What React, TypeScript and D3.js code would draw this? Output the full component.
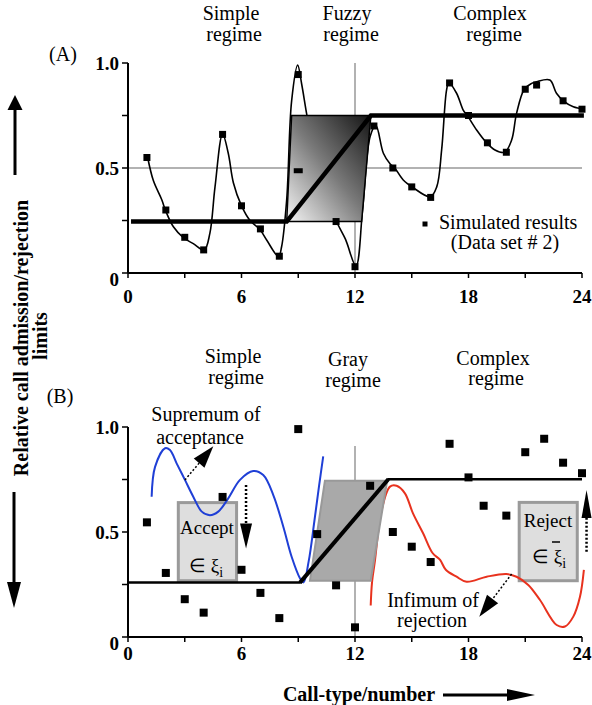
import React from 'react';
import * as d3 from 'd3';

const W = 592;
const H = 705;
const SERIF = '"Liberation Serif", "Times New Roman", serif';

// ---- panel (A): simulated results, data set #2
const simAX = [1, 2, 3, 4, 5, 6, 7, 8, 9, 11, 12, 13, 14, 15, 16, 17, 18, 19, 20, 21, 21.6, 23, 24];
const simAY = [0.55, 0.3, 0.17, 0.11, 0.66, 0.32, 0.21, 0.08, 0.945, 0.245, 0.03, 0.7, 0.5, 0.41, 0.36, 0.905, 0.75, 0.62, 0.575, 0.875, 0.895, 0.82, 0.78];
const dashA = [9, 0.487];

// the traced simulation curve through the squares
const traceAX = [1.04, 1.34, 1.78, 2.0, 2.4, 2.94, 3.45, 4.03, 4.33, 4.6, 5.0, 5.3, 5.57, 5.99, 6.45, 6.98, 7.33, 7.96, 8.12, 8.39, 8.65, 8.97, 9.18, 9.44, 10, 11.03, 11.5, 12.05, 12.4, 12.8, 13.1, 13.5, 13.85, 14.1, 14.55, 15.08, 15.98, 16.32, 16.58, 16.84, 16.96, 17.37, 17.72, 17.95, 18.43, 18.94, 19.4, 19.91, 20.28, 20.54, 20.95, 21.34, 21.6, 22.3, 22.65, 23.03, 23.54, 24.1];
const traceAY = [0.55, 0.44, 0.35, 0.294, 0.22, 0.167, 0.14, 0.11, 0.19, 0.41, 0.662, 0.57, 0.43, 0.322, 0.25, 0.206, 0.157, 0.078, 0.125, 0.35, 0.82, 0.99, 0.9, 0.76, 0.49, 0.244, 0.16, 0.033, 0.3, 0.65, 0.703, 0.57, 0.52, 0.5, 0.443, 0.406, 0.363, 0.41, 0.586, 0.871, 0.906, 0.856, 0.776, 0.748, 0.681, 0.622, 0.586, 0.575, 0.633, 0.76, 0.875, 0.903, 0.911, 0.919, 0.856, 0.819, 0.792, 0.781];

const stepAX = [0.16, 8.39, 12.84, 24.1];
const stepAY = [0.245, 0.245, 0.75, 0.75];
const fuzzyX = [8.65, 12.84, 12.35, 8.39];
const fuzzyY = [0.75, 0.75, 0.245, 0.245];

// ---- panel (B)
const simBX = [1, 2, 3, 4, 5, 6, 7, 8, 9, 10, 11, 12, 12.8, 14, 15, 16, 17, 18, 18.8, 20, 21, 22, 23, 24];
const simBY = [0.546, 0.305, 0.18, 0.116, 0.667, 0.32, 0.21, 0.09, 0.99, 0.49, 0.246, 0.046, 0.72, 0.5, 0.43, 0.357, 0.92, 0.76, 0.625, 0.578, 0.88, 0.944, 0.83, 0.78];

const supX = [1.25, 1.43, 1.96, 2.22, 2.57, 3.01, 3.45, 3.9, 4.33, 4.77, 5.3, 5.92, 6.62, 7.15, 7.68, 8.21, 8.65, 9.09, 9.28, 9.55, 9.85, 10.1, 10.32];
const supY = [0.668, 0.81, 0.899, 0.89, 0.827, 0.748, 0.668, 0.597, 0.58, 0.597, 0.66, 0.748, 0.79, 0.771, 0.676, 0.525, 0.382, 0.28, 0.26, 0.36, 0.55, 0.72, 0.86];

const infX = [12.83, 12.9, 13.05, 13.4, 13.85, 14.2, 14.64, 15.06, 15.6, 16.1, 16.5, 16.8, 17.37, 17.9, 18.96, 20.0, 20.54, 21.16, 21.78, 22.66, 23.1, 23.54, 23.89, 24.1];
const infY = [0.15, 0.26, 0.36, 0.6, 0.716, 0.72, 0.684, 0.59, 0.494, 0.4, 0.367, 0.32, 0.287, 0.263, 0.287, 0.3, 0.287, 0.248, 0.176, 0.057, 0.05, 0.097, 0.19, 0.32];

const stepBX = [0, 9.09, 13.76, 24];
const stepBY = [0.259, 0.259, 0.751, 0.751];
const grayX = [10.41, 13.7, 12.83, 9.62];
const grayY = [0.744, 0.744, 0.268, 0.268];

const xTicks = [0, 3, 6, 9, 12, 15, 18, 21, 24];
const xLabels = [0, 6, 12, 18, 24];
const yTicks = [0, 0.25, 0.5, 0.75, 1];
const yLabels = [[0, '0'], [0.5, '0.5'], [1, '1.0']];

const x = d3.scaleLinear().domain([0, 24]).range([128, 582]);
const yA = d3.scaleLinear().domain([0, 1]).range([273, 63]);
const yB = d3.scaleLinear().domain([0, 1]).range([637, 427]);

const zip = (xs, ys) => xs.map((v, i) => [v, ys[i]]);

const serif = { fontFamily: SERIF };
const serifBold = { fontFamily: SERIF, fontWeight: 'bold' as const };

function Arrow({ x1, y1, x2, y2, len, wid, sw = 2, dash = null }) {
  const a = Math.atan2(y2 - y1, x2 - x1);
  const bx = x2 - len * Math.cos(a);
  const by = y2 - len * Math.sin(a);
  const px = -Math.sin(a) * wid / 2;
  const py = Math.cos(a) * wid / 2;
  return (
    <g>
      <line x1={x1} y1={y1} x2={bx} y2={by} stroke="#000" strokeWidth={sw} strokeDasharray={dash || undefined} />
      <polygon points={`${x2},${y2} ${bx + px},${by + py} ${bx - px},${by - py}`} fill="#000" />
    </g>
  );
}

function Axes({ y, xLabelDy }) {
  return (
    <g style={serifBold} fontSize={19}>
      <line x1={x(0)} x2={x(24)} y1={y(0)} y2={y(0)} stroke="#000" strokeWidth={2} />
      <line x1={x(0)} x2={x(0)} y1={y(0)} y2={y(1)} stroke="#000" strokeWidth={2} />
      {xTicks.map(t => (
        <line key={t} x1={x(t)} x2={x(t)} y1={y(0)} y2={y(0) + 5} stroke="#000" strokeWidth={1.5} />
      ))}
      {yTicks.map(t => (
        <line key={t} x1={x(0) - 6} x2={x(0)} y1={y(t)} y2={y(t)} stroke="#000" strokeWidth={1.5} />
      ))}
      {xLabels.map(t => (
        <text key={t} x={x(t)} y={y(0) + xLabelDy} textAnchor="middle">{t}</text>
      ))}
      {yLabels.map(([v, s]) => (
        <text key={s} x={119} y={y(v) + (v === 0 ? 13 : 7)} textAnchor="end">{s}</text>
      ))}
    </g>
  );
}

function Squares({ xs, ys, y, size }) {
  return (
    <g>
      {xs.map((v, i) => (
        <rect key={i} x={x(v) - size / 2} y={y(ys[i]) - size / 2} width={size} height={size} fill="#000" />
      ))}
    </g>
  );
}

export default function App() {
  const lineA = d3.line().x(d => x(d[0])).y(d => yA(d[1])).curve(d3.curveCatmullRom);
  const lineB = d3.line().x(d => x(d[0])).y(d => yB(d[1])).curve(d3.curveCatmullRom);
  const polyA = zip(fuzzyX, fuzzyY).map(d => `${x(d[0])},${yA(d[1])}`).join(' ');
  const polyB = zip(grayX, grayY).map(d => `${x(d[0])},${yB(d[1])}`).join(' ');
  const stepA = d3.line().x(d => x(d[0])).y(d => yA(d[1]));
  const stepB = d3.line().x(d => x(d[0])).y(d => yB(d[1]));
  const sA = zip(stepAX, stepAY);
  const sB = zip(stepBX, stepBY);

  return (
    <svg width={W} height={H} style={{ position: 'absolute', left: 0, top: 0, background: '#fff' }}>
      <defs>
        <linearGradient id="fuzzy" x1="0" y1="1" x2="1" y2="0">
          <stop offset="0" stopColor="#f6f6f6" />
          <stop offset="0.5" stopColor="#7a7a7a" />
          <stop offset="1" stopColor="#141414" />
        </linearGradient>
      </defs>

      {/* y-axis title with arrows */}
      <g style={serifBold} fontSize={20}>
        <text transform="translate(28,338) rotate(-90)" textAnchor="middle">Relative call admission/rejection</text>
        <text transform="translate(47,336) rotate(-90)" textAnchor="middle">limits</text>
      </g>
      <Arrow x1={15} y1={175} x2={15} y2={95} len={15} wid={15} sw={3} />
      <Arrow x1={14} y1={492} x2={14} y2={608} len={26} wid={14} sw={3} />

      {/* ---------------- panel A ---------------- */}
      <g style={serif} fontSize={20}>
        <text x={63} y={61} textAnchor="middle">(A)</text>
        <text x={231} y={20} textAnchor="middle">Simple</text>
        <text x={234} y={41} textAnchor="middle">regime</text>
        <text x={347} y={20} textAnchor="middle">Fuzzy</text>
        <text x={351} y={41} textAnchor="middle">regime</text>
        <text x={490} y={20} textAnchor="middle">Complex</text>
        <text x={494} y={41} textAnchor="middle">regime</text>
      </g>
      <line x1={x(0)} x2={x(24)} y1={yA(0.5)} y2={yA(0.5)} stroke="#999" strokeWidth={1.5} />
      <line x1={x(12)} x2={x(12)} y1={yA(1)} y2={yA(0)} stroke="#999" strokeWidth={1.5} />
      <path d={lineA(zip(traceAX, traceAY))} fill="none" stroke="#000" strokeWidth={1.6} />
      <polygon points={polyA} fill="url(#fuzzy)" stroke="#000" strokeWidth={1.5} />
      <path d={stepA(sA)} fill="none" stroke="#000" strokeWidth={4.5} />
      <Squares xs={simAX} ys={simAY} y={yA} size={7} />
      <rect x={x(dashA[0]) - 4.5} y={yA(dashA[1]) - 2.5} width={9} height={5} fill="#000" />
      <Axes y={yA} xLabelDy={30} />
      <rect x={422.5} y={221.5} width={5} height={5} fill="#000" />
      <g style={serif} fontSize={20}>
        <text x={439} y={229}>Simulated results</text>
        <text x={505} y={249} textAnchor="middle">(Data set # 2)</text>
      </g>

      {/* ---------------- panel B ---------------- */}
      <g style={serif} fontSize={20}>
        <text x={60} y={403} textAnchor="middle">(B)</text>
        <text x={233} y={363} textAnchor="middle">Simple</text>
        <text x={236} y={384} textAnchor="middle">regime</text>
        <text x={348} y={366} textAnchor="middle">Gray</text>
        <text x={353} y={387} textAnchor="middle">regime</text>
        <text x={493} y={365} textAnchor="middle">Complex</text>
        <text x={496} y={385} textAnchor="middle">regime</text>
      </g>
      <rect x={x(2.66)} y={yB(0.64)} width={x(5.74) - x(2.66)} height={yB(0.268) - yB(0.64)} fill="#dedede" stroke="#9a9a9a" strokeWidth={3} />
      <rect x={x(20.68)} y={yB(0.641)} width={x(23.75) - x(20.68)} height={yB(0.268) - yB(0.641)} fill="#dedede" stroke="#9a9a9a" strokeWidth={3} />
      <line x1={x(12)} x2={x(12)} y1={yB(0.91)} y2={yB(0)} stroke="#999" strokeWidth={1.5} />
      <path d={lineB(zip(supX, supY))} fill="none" stroke="#1f3fd6" strokeWidth={2} />
      <path d={lineB(zip(infX, infY))} fill="none" stroke="#e8321e" strokeWidth={2} />
      <polygon points={polyB} fill="#a9a9a9" stroke="#999" strokeWidth={2} />
      <path d={stepB(sB)} fill="none" stroke="#000" strokeWidth={2.5} />
      <line x1={x(stepBX[1])} y1={yB(stepBY[1])} x2={x(stepBX[2])} y2={yB(stepBY[2])} stroke="#000" strokeWidth={4} />
      <Squares xs={simBX} ys={simBY} y={yB} size={8} />
      <Axes y={yB} xLabelDy={23} />

      <g style={serif} fontSize={20}>
        <text x={206} y={421} textAnchor="middle">Supremum of</text>
        <text x={200} y={444} textAnchor="middle">acceptance</text>
        <text x={433} y={607} textAnchor="middle">Infimum of</text>
        <text x={432} y={627} textAnchor="middle">rejection</text>
        <text x={207} y={534} textAnchor="middle" fontSize={19}>Accept</text>
        <text x={206} y={572} textAnchor="middle" fontSize={19}>
          ∈ ξ<tspan fontSize={14} dy={5}>i</tspan>
        </text>
        <text x={548} y={527} textAnchor="middle" fontSize={19}>Reject</text>
        <text x={549} y={563} textAnchor="middle" fontSize={19}>
          ∈ ξ<tspan fontSize={14} dy={5}>i</tspan>
        </text>
      </g>
      <line x1={552} x2={560} y1={542} y2={542} stroke="#000" strokeWidth={1.5} />

      <Arrow x1={x(3.01)} y1={yB(0.748)} x2={x(4.51)} y2={yB(0.908)} len={22} wid={14} sw={1.5} dash="2,2" />
      <Arrow x1={x(6.24)} y1={yB(0.724)} x2={x(6.24)} y2={yB(0.422)} len={25} wid={12} sw={2.5} dash="2,2" />
      <Arrow x1={x(20.28)} y1={yB(0.3)} x2={x(18.57)} y2={yB(0.097)} len={22} wid={14} sw={1.5} dash="2,2" />
      <Arrow x1={x(24.24)} y1={yB(0.406)} x2={x(24.24)} y2={yB(0.7)} len={28} wid={10} sw={2.5} dash="2,2" />

      {/* x-axis title */}
      <text x={359} y={701} textAnchor="middle" style={serifBold} fontSize={20}>Call-type/number</text>
      <Arrow x1={443} y1={695} x2={535} y2={695} len={28} wid={12} sw={3} />
    </svg>
  );
}
